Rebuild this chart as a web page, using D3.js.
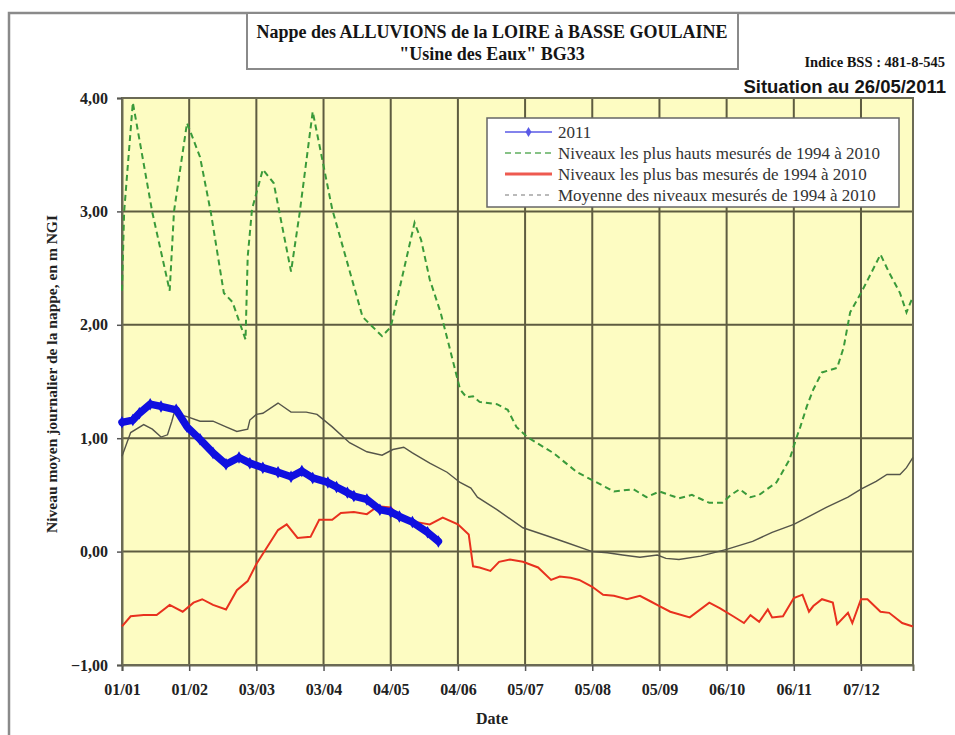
<!DOCTYPE html>
<html>
<head>
<meta charset="utf-8">
<script src="https://cdn.jsdelivr.net/npm/d3@7"></script>
<style>
  html, body { margin: 0; padding: 0; background: #fff; }
  svg { display: block; }
</style>
</head>
<body>
<svg id="chart" width="955" height="735"></svg>
<script>
// Day offsets from 1 January (leap-year calendar) and levels in m NGF
const highDays = [0,1,5,14,22,24,30,36,41,47,51,57,58,60,65,70,78,82,88,97,111,120,124,135,138,142,147,151,156,159,162,165,173,178,182,187,199,210,217,227,236,242,248,254,257,263,271,277,281,285,290,294,302,308,311,313,316,319,323,330,333,336,341,345,350,354,359,362,365];
const highValues = [2.30,3.00,3.96,2.99,2.30,3.00,3.78,3.48,2.99,2.28,2.20,1.87,2.60,3.02,3.37,3.25,2.47,2.99,3.88,3.02,2.07,1.90,1.98,2.90,2.75,2.40,2.11,1.81,1.43,1.36,1.37,1.32,1.30,1.25,1.10,1.01,0.87,0.70,0.63,0.53,0.55,0.48,0.53,0.49,0.47,0.50,0.43,0.43,0.50,0.55,0.48,0.50,0.61,0.81,0.99,1.10,1.28,1.43,1.58,1.62,1.80,2.11,2.28,2.43,2.62,2.46,2.28,2.11,2.25];

const lowDays = [0,4,10,16,22,28,33,37,42,48,53,58,62,67,72,76,81,87,91,97,101,107,113,118,124,128,136,142,148,155,160,162,165,170,174,179,185,192,198,202,207,211,217,222,227,233,239,244,248,253,262,271,276,282,287,290,294,298,300,305,310,314,317,319,323,328,330,335,337,341,344,350,354,360,365];
const lowValues = [-0.66,-0.57,-0.56,-0.56,-0.47,-0.53,-0.45,-0.42,-0.47,-0.51,-0.34,-0.26,-0.11,0.04,0.19,0.24,0.12,0.13,0.28,0.28,0.34,0.35,0.33,0.40,0.39,0.31,0.26,0.24,0.30,0.24,0.15,-0.13,-0.14,-0.17,-0.09,-0.07,-0.09,-0.14,-0.25,-0.22,-0.23,-0.25,-0.31,-0.38,-0.39,-0.42,-0.39,-0.44,-0.48,-0.53,-0.58,-0.45,-0.50,-0.57,-0.63,-0.56,-0.62,-0.51,-0.58,-0.57,-0.41,-0.38,-0.53,-0.48,-0.42,-0.45,-0.64,-0.54,-0.63,-0.42,-0.42,-0.53,-0.54,-0.63,-0.66];

const meanDays = [0,4,10,14,18,21,23,24,30,36,42,48,53,58,59,62,65,72,78,85,90,97,105,113,120,125,130,134,142,150,156,161,164,173,185,196,205,217,224,231,239,247,251,257,267,279,291,300,310,316,325,335,341,348,353,359,362,365];
const meanValues = [0.84,1.05,1.12,1.08,1.01,1.03,1.15,1.22,1.19,1.15,1.15,1.10,1.06,1.08,1.16,1.21,1.22,1.31,1.23,1.23,1.21,1.10,0.96,0.88,0.85,0.90,0.92,0.87,0.78,0.70,0.61,0.56,0.48,0.37,0.21,0.14,0.08,0.00,-0.01,-0.03,-0.05,-0.03,-0.06,-0.07,-0.04,0.02,0.09,0.17,0.24,0.30,0.39,0.48,0.55,0.62,0.68,0.68,0.74,0.83];

const y2011Days = [0,5,8,13,18,25,30,36,42,48,54,59,65,72,78,83,88,95,99,104,107,113,119,124,128,134,141,146];
const y2011Values = [1.14,1.16,1.22,1.30,1.28,1.25,1.10,0.99,0.87,0.77,0.83,0.78,0.74,0.70,0.66,0.71,0.65,0.61,0.57,0.52,0.49,0.46,0.37,0.35,0.31,0.26,0.17,0.09];

const tickLabels = ["01/01","01/02","03/03","03/04","04/05","04/06","05/07","05/08","05/09","06/10","06/11","07/12"];
const yTicks = [-1, 0, 1, 2, 3, 4];

const titleLines = ["Nappe des ALLUVIONS de la LOIRE à BASSE GOULAINE", "\"Usine des Eaux\" BG33"];
const legendLabels = ["2011", "Niveaux les plus hauts mesurés de 1994 à 2010", "Niveaux les plus bas mesurés de 1994 à 2010", "Moyenne des niveaux mesurés de 1994 à 2010"];

const serif = "'Liberation Serif', 'Times New Roman', serif";
const sans = "'Liberation Sans', Arial, sans-serif";

const svg = d3.select("#chart");
const base = new Date(2000, 0, 1);
const dayToDate = d => d3.timeDay.offset(base, d);
const parseTick = d3.timeParse("%d/%m/%Y");

const plot = { left: 122, top: 98, right: 913, bottom: 665 };
const x = d3.scaleTime().domain([base, new Date(2000, 11, 31)]).range([plot.left, plot.right]);
const y = d3.scaleLinear().domain([-1, 4]).range([plot.bottom, plot.top]);

// outer frame
svg.append("rect").attr("x", 9).attr("y", 13).attr("width", 960).attr("height", 740)
  .attr("fill", "none").attr("stroke", "#8a8a8a").attr("stroke-width", 2.5);

// title box
svg.append("rect").attr("x", 247).attr("y", 13).attr("width", 491).attr("height", 56)
  .attr("fill", "#fff").attr("stroke", "#8a8a8a").attr("stroke-width", 2);
svg.selectAll("text.title").data(titleLines).join("text").attr("class", "title")
  .attr("x", 492).attr("y", (d, i) => 38 + i * 22)
  .attr("text-anchor", "middle").attr("font-family", serif).attr("font-weight", "bold")
  .attr("font-size", 18).attr("fill", "#151515").text(d => d);

svg.append("text").attr("x", 945).attr("y", 67).attr("text-anchor", "end")
  .attr("font-family", serif).attr("font-weight", "bold").attr("font-size", 14.5)
  .attr("fill", "#151515").text("Indice BSS : 481-8-545");
svg.append("text").attr("x", 946).attr("y", 93).attr("text-anchor", "end")
  .attr("font-family", sans).attr("font-weight", "bold").attr("font-size", 18.5)
  .attr("fill", "#151515").text("Situation au 26/05/2011");

// plot background
svg.append("rect").attr("x", plot.left).attr("y", plot.top)
  .attr("width", plot.right - plot.left).attr("height", plot.bottom - plot.top)
  .attr("fill", "#fdfcc2");

const tickDates = tickLabels.map(t => parseTick(t + "/2000"));

// grid
const grid = svg.append("g").attr("stroke", "#5e5c40").attr("stroke-width", 2);
grid.selectAll("line.v").data(tickDates).join("line").attr("class", "v")
  .attr("x1", d => x(d)).attr("x2", d => x(d)).attr("y1", plot.top).attr("y2", plot.bottom);
grid.selectAll("line.h").data(yTicks).join("line").attr("class", "h")
  .attr("x1", plot.left).attr("x2", plot.right).attr("y1", d => y(d)).attr("y2", d => y(d));
svg.append("rect").attr("x", plot.left).attr("y", plot.top)
  .attr("width", plot.right - plot.left).attr("height", plot.bottom - plot.top)
  .attr("fill", "none").attr("stroke", "#6b6a55").attr("stroke-width", 2);

// axes
const xAxis = svg.append("g").attr("transform", `translate(0,${plot.bottom})`)
  .call(d3.axisBottom(x).tickValues(tickDates).tickFormat(d3.timeFormat("%d/%m")).tickSize(6).tickPadding(13));
const yAxis = svg.append("g").attr("transform", `translate(${plot.left},0)`)
  .call(d3.axisLeft(y).tickValues(yTicks).tickFormat(d => d3.format(".2f")(d).replace(".", ",")).tickSize(5).tickPadding(9));
[xAxis, yAxis].forEach(a => {
  a.select(".domain").attr("stroke", "#6b6a55").attr("stroke-width", 2);
  a.selectAll(".tick line").attr("stroke", "#555").attr("stroke-width", 1.5);
  a.selectAll(".tick text").attr("font-family", serif).attr("font-weight", "bold")
    .attr("font-size", 16).attr("fill", "#222");
});

svg.append("text").attr("x", 492).attr("y", 724).attr("text-anchor", "middle")
  .attr("font-family", serif).attr("font-weight", "bold").attr("font-size", 16)
  .attr("fill", "#222").text("Date");
svg.append("text").attr("transform", "translate(57,374) rotate(-90)").attr("text-anchor", "middle")
  .attr("font-family", serif).attr("font-weight", "bold").attr("font-size", 15.5)
  .attr("fill", "#222").text("Niveau moyen journalier de la nappe, en m NGI");

// series
const line = d3.line().x(d => x(dayToDate(d[0]))).y(d => y(d[1]));
const zip = (a, b) => a.map((d, i) => [d, b[i]]);

svg.append("path").datum(zip(meanDays, meanValues)).attr("d", line)
  .attr("fill", "none").attr("stroke", "#55554a").attr("stroke-width", 1.4);
svg.append("path").datum(zip(lowDays, lowValues)).attr("d", line)
  .attr("fill", "none").attr("stroke", "#e8311e").attr("stroke-width", 2);
svg.append("path").datum(zip(highDays, highValues)).attr("d", line)
  .attr("fill", "none").attr("stroke", "#3a9a3a").attr("stroke-width", 2)
  .attr("stroke-dasharray", "6,4");

const s2011 = zip(y2011Days, y2011Values);
svg.append("path").datum(s2011).attr("d", line)
  .attr("fill", "none").attr("stroke", "#1010e0").attr("stroke-width", 7.5)
  .attr("stroke-linejoin", "round").attr("stroke-linecap", "round");
svg.selectAll("path.mk").data(s2011).join("path").attr("class", "mk")
  .attr("transform", d => `translate(${x(dayToDate(d[0]))},${y(d[1])})`)
  .attr("d", d3.symbol(d3.symbolDiamond, 45)).attr("fill", "#1010e0");

// legend
const lg = svg.append("g").attr("transform", "translate(487,118)");
lg.append("rect").attr("width", 412).attr("height", 89).attr("fill", "#fff")
  .attr("stroke", "#666").attr("stroke-width", 1.5);
const rows = lg.selectAll("g.row").data(legendLabels).join("g").attr("class", "row")
  .attr("transform", (d, i) => `translate(0,${14 + i * 21})`);
rows.append("line").attr("x1", 18).attr("x2", 65).attr("y1", 0).attr("y2", 0)
  .attr("stroke", (d, i) => ["#5a5ae6", "#5fae5f", "#ee5a50", "#777"][i])
  .attr("stroke-width", (d, i) => [1.5, 1.5, 3, 1.2][i])
  .attr("stroke-dasharray", (d, i) => i === 1 ? "6,4" : (i === 3 ? "4,4" : null));
lg.append("path").attr("transform", "translate(41.5,14)")
  .attr("d", d3.symbol(d3.symbolDiamond, 30)).attr("fill", "#5a5ae6");
rows.append("text").attr("x", 71).attr("y", 5.5).attr("font-family", serif)
  .attr("font-size", 17).attr("fill", "#333").text(d => d);
</script>
</body>
</html>
